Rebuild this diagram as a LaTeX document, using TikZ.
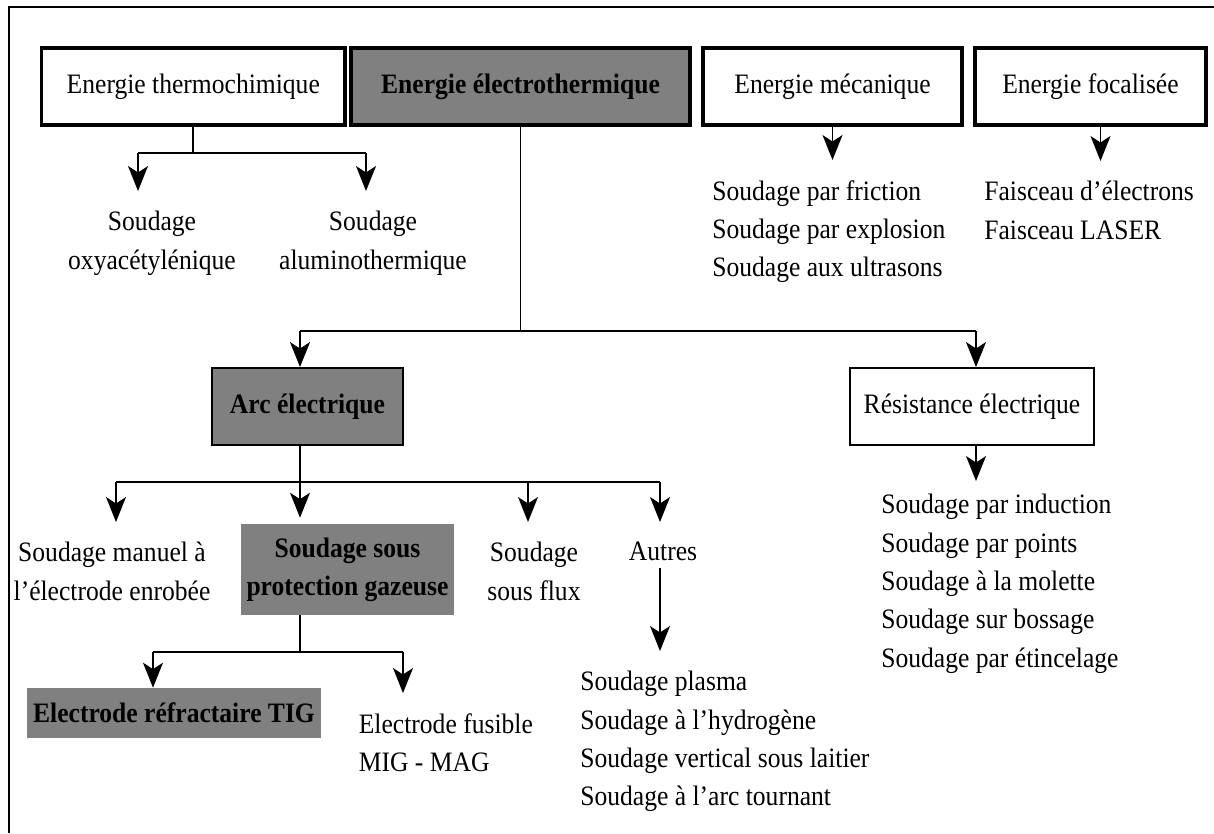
\documentclass[tikz,border=0pt]{standalone}
\usepackage{fontspec}
\setmainfont{Liberation Serif}[FakeStretch=0.91]
\usepackage{tikz}
\usetikzlibrary{arrows.meta}
\definecolor{boxgray}{RGB}{128,128,128}
\tikzstyle{line} = [line width=1pt]
\tikzstyle{arrow} = [line width=1pt,-{Stealth[length=0.5cm,width=0.4cm,inset=0.13cm]}]
\tikzstyle{tarrow} = [arrow, shorten >=0.4cm]
\tikzstyle{topbox} = [draw, line width=1.9pt, minimum height=1.54cm]
\tikzstyle{midbox} = [draw, line width=1.1pt, minimum height=1.54cm]
\tikzstyle{txt} = [inner sep=0pt, align=center, anchor=north]
\tikzstyle{list} = [inner sep=0pt, align=left, anchor=north west]

\begin{document}
\begin{tikzpicture}[x=0.02cm, y=-0.02cm, every node/.style={font=\fontsize{16}{21.8}\selectfont}]
        \useasboundingbox (0,0) rectangle (1214,833);
        \draw[line width=1.3pt] (1214,7) -- (9,7) -- (9,833);

        % top row
        \node[topbox, minimum width=6.07cm] (thermo) at (193.3,86.5) {Energie thermochimique};
        \node[topbox, fill=boxgray, minimum width=6.78cm, font=\fontsize{16}{21.8}\selectfont\bfseries] (electro) at (520.5,86.5) {Energie électrothermique};
        \node[topbox, minimum width=5.18cm] (meca) at (832.5,86.5) {Energie mécanique};
        \node[topbox, minimum width=4.62cm] (focal) at (1090.5,86.5) {Energie focalisée};

        \node[txt] (oxy) at (152,211) {Soudage\\oxyacétylénique};
        \node[txt] (alu) at (373,211) {Soudage\\aluminothermique};
        \node[list] (mecalist) at (712,180) {Soudage par friction\\Soudage par explosion\\Soudage aux ultrasons};
        \node[list] (focallist) at (984,181) {Faisceau d’électrons\\Faisceau LASER};

        % second level
        \node[midbox, fill=boxgray, minimum width=3.82cm, font=\fontsize{16}{21.8}\selectfont\bfseries] (arc) at (307.5,406.5) {Arc électrique};
        \node[midbox, minimum width=4.88cm] (resist) at (972,406.5) {Résistance électrique};
        \node[list] (resistlist) at (881,494) {Soudage par induction\\Soudage par points\\Soudage à la molette\\Soudage sur bossage\\Soudage par étincelage};

        \node[txt] (manual) at (112,542) {Soudage manuel à\\l’électrode enrobée};
        \node[fill=boxgray, minimum width=4.26cm, minimum height=1.82cm, align=center, font=\fontsize{16}{21.8}\selectfont\bfseries] (sspg) at (347.5,569.5) {Soudage sous\\protection gazeuse};
        \node[txt] (flux) at (534,542) {Soudage\\sous flux};
        \node[txt] (autres) at (663,542) {Autres};
        \node[list] (autreslist) at (580,671) {Soudage plasma\\Soudage à l’hydrogène\\Soudage vertical sous laitier\\Soudage à l’arc tournant};

        \node[fill=boxgray, minimum width=5.88cm, minimum height=1.0cm, font=\fontsize{16}{21.8}\selectfont\bfseries] (tig) at (174,713) {Electrode réfractaire TIG};
        \node[list] (mig) at (358.5,713) {Electrode fusible\\MIG - MAG};

        % junctions
        \coordinate (thl) at (138,153);
        \coordinate (thr) at (366,153);
        \coordinate (ell) at (300,331);
        \coordinate (elr) at (976,331);
        \coordinate (arl) at (116,482);
        \coordinate (arf) at (528,482);
        \coordinate (arr) at (660,482);
        \coordinate (spl) at (153,652);
        \coordinate (spr) at (403,652);

        % connectors
        \draw[line] (thermo.south) -- (thermo.south |- thl);
        \draw[line] (thl) -- (thr);
        \draw[tarrow] (thl) -- (thl |- oxy.north);
        \draw[tarrow] (thr) -- (thr |- alu.north);
        \draw[tarrow] (meca.south) -- (meca.south |- mecalist.north);
        \draw[tarrow] ([xshift=0.2cm]focal.south) -- ([xshift=0.2cm]focal.south |- focallist.north);

        \draw[line] (electro.south) -- (electro.south |- ell);
        \draw[line] (ell) -- (elr);
        \draw[arrow] (ell) -- (ell |- arc.north);
        \draw[arrow] (elr) -- (elr |- resist.north);
        \draw[tarrow, shorten >=0.26cm] (elr |- resist.south) -- (elr |- resistlist.north);

        \draw[line] (ell |- arc.south) -- (ell |- arl);
        \draw[line] (arl) -- (arr);
        \draw[tarrow] (arl) -- (arl |- manual.north);
        \draw[arrow, shorten >=0.12cm] (ell |- arl) -- (ell |- sspg.north);
        \draw[tarrow] (arf) -- (arf |- flux.north);
        \draw[tarrow] (arr) -- (arr |- autres.north);
        \draw[tarrow, shorten <=0.12cm] (arr |- autres.south) -- (arr |- autreslist.north);

        \draw[line] (ell |- sspg.south) -- (ell |- spl);
        \draw[line] (spl) -- (spr);
        \draw[arrow] (spl) -- (spl |- tig.north);
        \draw[tarrow] (spr) -- (spr |- mig.north);
\end{tikzpicture}
\end{document}
